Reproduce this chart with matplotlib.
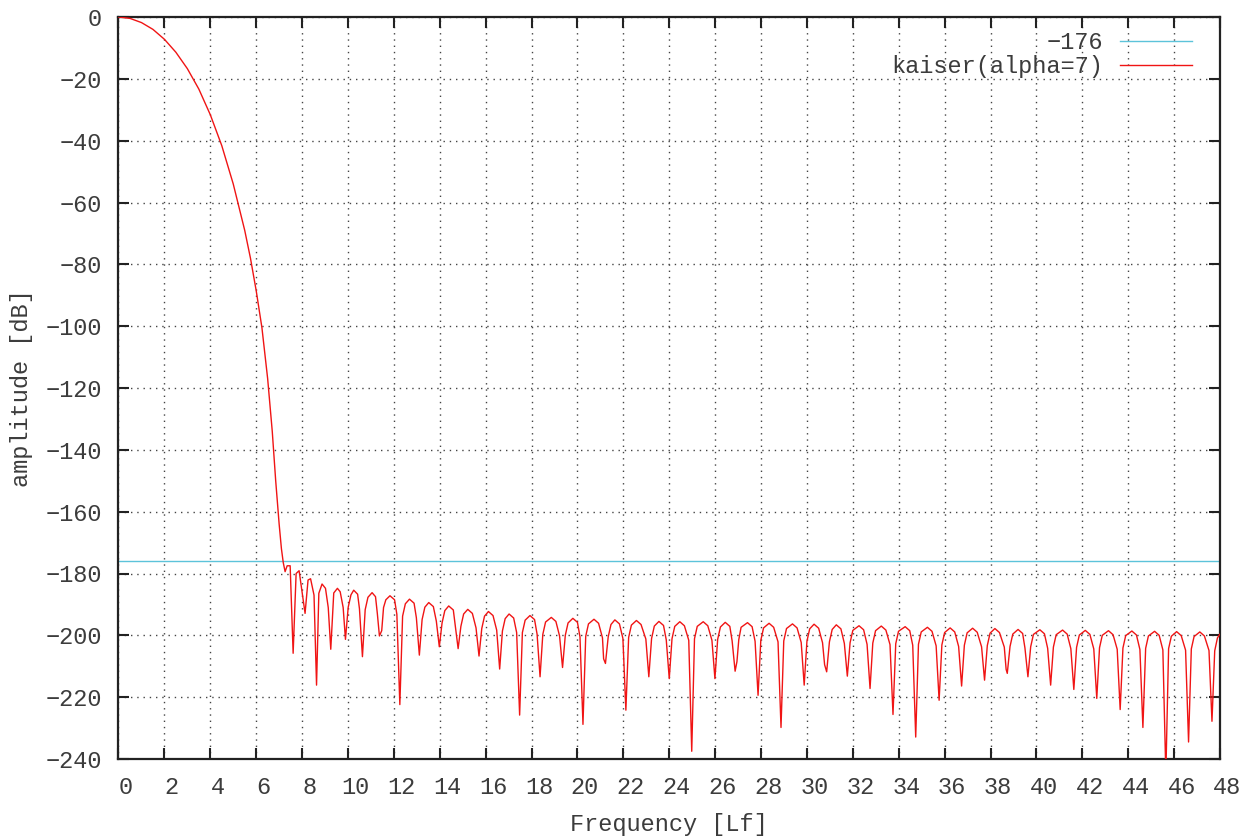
import matplotlib
matplotlib.use("Agg")
import matplotlib.pyplot as plt
from matplotlib.transforms import ScaledTranslation

plt.rcParams['font.family'] = ['Liberation Mono', 'DejaVu Sans']

# ---- data ----
threshold_db = -176
threshold_label = "\u2212176"
series_label = "kaiser(alpha=7)"

# main lobe
main_freq = [0.0, 0.5, 1.0, 1.5, 2.0, 2.5, 3.0, 3.5, 4.0, 4.5, 5.0, 5.5, 5.75,
             6.0, 6.25, 6.5, 6.7, 6.85, 7.0, 7.1, 7.18]
main_db = [0.0, -0.45, -1.8, -4.0, -7.2, -11.4, -16.7, -23.3, -31.6, -41.6, -54.0, -69.0, -78.0,
           -88.5, -100.5, -117.0, -134.0, -150.0, -164.0, -172.0, -176.5]

# first irregular side lobes
near_freq = [7.26, 7.35, 7.48, 7.61, 7.74, 7.87, 8.13, 8.26, 8.37, 8.52, 8.63, 8.73, 8.87, 9.02,
             9.14, 9.25, 9.38, 9.54, 9.66, 9.79, 9.89]
near_db = [-179.4, -177.5, -177.5, -205.8, -180.0, -179.1, -192.9, -182.1, -181.7, -187.0, -216.1,
           -186.4, -183.4, -184.8, -191.0, -204.5, -186.3, -184.8, -185.9, -191.0, -201.3]

# remaining side lobes (shoulder, shoulder, peak, shoulder, shoulder, null)
far_freq = [
    10.01, 10.13, 10.25, 10.42, 10.50, 10.63,
    10.75, 10.87, 11.05, 11.20, 11.28, 11.37, 11.47,
    11.55, 11.65, 11.83, 12.03, 12.13, 12.26,
    12.38, 12.50, 12.68, 12.88, 12.98, 13.11,
    13.23, 13.35, 13.52, 13.72, 13.85, 13.98,
    14.10, 14.22, 14.39, 14.59, 14.67, 14.80,
    14.92, 15.04, 15.22, 15.42, 15.58, 15.71,
    15.83, 15.95, 16.12, 16.32, 16.48, 16.61,
    16.73, 16.85, 17.02, 17.22, 17.35, 17.48,
    17.60, 17.72, 17.93, 18.13, 18.24, 18.37,
    18.49, 18.61, 18.86, 19.06, 19.22, 19.35,
    19.47, 19.59, 19.80, 20.00, 20.11, 20.24,
    20.36, 20.48, 20.72, 20.92, 21.09, 21.14, 21.22,
    21.34, 21.46, 21.63, 21.83, 21.98, 22.11,
    22.23, 22.35, 22.57, 22.77, 22.98, 23.11,
    23.23, 23.35, 23.55, 23.75, 23.87, 24.00,
    24.12, 24.24, 24.46, 24.66, 24.85, 24.98,
    25.10, 25.22, 25.48, 25.68, 25.86, 25.99,
    26.11, 26.23, 26.44, 26.64, 26.74, 26.87, 26.95,
    27.03, 27.13, 27.41, 27.61, 27.74, 27.87,
    27.99, 28.11, 28.35, 28.55, 28.74, 28.87,
    28.99, 29.11, 29.37, 29.57, 29.75, 29.88,
    30.00, 30.12, 30.31, 30.51, 30.68, 30.77, 30.86,
    30.98, 31.10, 31.28, 31.48, 31.63, 31.76,
    31.88, 32.00, 32.27, 32.47, 32.62, 32.75,
    32.87, 32.99, 33.24, 33.44, 33.62, 33.75,
    33.87, 33.99, 34.28, 34.48, 34.61, 34.74,
    34.86, 34.98, 35.25, 35.45, 35.63, 35.76,
    35.88, 36.00, 36.24, 36.44, 36.61, 36.74,
    36.86, 36.98, 37.22, 37.42, 37.61, 37.74,
    37.86, 37.98, 38.19, 38.39, 38.60, 38.68, 38.73,
    38.85, 38.97, 39.20, 39.40, 39.50, 39.63,
    39.75, 39.87, 40.15, 40.35, 40.49, 40.62,
    40.74, 40.86, 41.14, 41.34, 41.50, 41.63,
    41.75, 41.87, 42.13, 42.33, 42.50, 42.63,
    42.75, 42.87, 43.14, 43.34, 43.52, 43.65,
    43.77, 43.89, 44.16, 44.36, 44.51, 44.64,
    44.76, 44.88, 45.15, 45.35, 45.51, 45.64,
    45.76, 45.88, 46.11, 46.31, 46.50, 46.63,
    46.75, 46.87, 47.12, 47.32, 47.52, 47.65,
    47.77, 47.89, 48.00,
]
far_db = [
    -190.9, -186.9, -185.4, -186.7, -191.4, -206.9,
    -191.7, -187.7, -186.2, -187.5, -193.0, -200.2, -198.5,
    -191.0, -188.5, -187.2, -188.5, -193.2, -222.4,
    -193.8, -189.8, -188.3, -189.6, -194.3, -206.4,
    -194.9, -190.9, -189.4, -190.7, -195.4, -203.7,
    -196.0, -192.0, -190.5, -191.8, -196.5, -204.3,
    -197.1, -193.1, -191.6, -192.9, -197.6, -206.7,
    -197.8, -193.8, -192.3, -193.6, -198.3, -210.9,
    -198.6, -194.6, -193.1, -194.4, -199.1, -225.8,
    -199.1, -195.1, -193.6, -194.9, -199.6, -213.4,
    -199.7, -195.7, -194.2, -195.5, -200.2, -210.4,
    -200.0, -196.0, -194.5, -195.8, -200.5, -228.8,
    -200.3, -196.3, -194.8, -196.1, -200.8, -207.6, -209.1,
    -200.5, -196.5, -195.0, -196.3, -201.0, -224.2,
    -200.7, -196.7, -195.2, -196.5, -201.2, -213.4,
    -201.0, -197.0, -195.5, -196.8, -201.5, -214.0,
    -201.1, -197.1, -195.6, -196.9, -201.6, -237.5,
    -201.1, -197.1, -195.6, -196.9, -201.6, -214.0,
    -201.3, -197.3, -195.8, -197.1, -201.8, -211.6, -208.5,
    -201.4, -197.4, -195.9, -197.2, -201.9, -219.4,
    -201.6, -197.6, -196.1, -197.4, -202.1, -229.8,
    -201.8, -197.8, -196.3, -197.6, -202.3, -216.1,
    -201.9, -197.9, -196.4, -197.7, -202.4, -209.5, -211.8,
    -202.1, -198.1, -196.6, -197.9, -202.6, -213.2,
    -202.4, -198.4, -196.9, -198.2, -202.9, -217.2,
    -202.5, -198.5, -197.0, -198.3, -203.0, -225.6,
    -202.7, -198.7, -197.2, -198.5, -203.2, -232.9,
    -202.9, -198.9, -197.4, -198.7, -203.4, -221.0,
    -203.1, -199.1, -197.6, -198.9, -203.6, -216.4,
    -203.2, -199.2, -197.7, -199.0, -203.7, -214.5,
    -203.3, -199.3, -197.8, -199.1, -203.8, -211.0, -212.3,
    -203.6, -199.6, -198.1, -199.4, -204.1, -213.4,
    -203.7, -199.7, -198.2, -199.5, -204.2, -216.1,
    -203.8, -199.8, -198.3, -199.6, -204.3, -217.5,
    -203.9, -199.9, -198.4, -199.7, -204.4, -220.4,
    -204.0, -200.0, -198.5, -199.8, -204.5, -224.0,
    -204.1, -200.1, -198.6, -199.9, -204.6, -229.8,
    -204.2, -200.2, -198.7, -200.0, -204.7, -245.0,
    -204.3, -200.3, -198.8, -200.1, -204.8, -234.5,
    -204.4, -200.4, -198.9, -200.2, -204.9, -227.8,
    -205.0, -200.8, -199.6,
]

x_ticks = list(range(0, 49, 2))
y_ticks = list(range(-240, 1, 20))

freq = main_freq + near_freq + far_freq
amplitude = main_db + near_db + far_db

# ---- figure ----
W, H = 1253, 839
fig = plt.figure(figsize=(W / 100, H / 100), dpi=100)
ax = fig.add_axes([118.5 / W, 1 - 759 / H, (1220 - 118.5) / W, (759 - 17) / H])

text_color = '#3c3c3c'
fs = 17

ax.axhline(threshold_db, color='#5cc3da', lw=1.0, label=threshold_label, zorder=2)
ax.plot(freq, amplitude, color='#f01414', lw=1.0, label=series_label, zorder=3)

ax.set_xlim(0, 48)
ax.set_ylim(-240, 0)
ax.set_xticks(x_ticks)
ax.set_yticks(y_ticks)
ax.set_xticklabels([str(v) for v in x_ticks])
ax.set_yticklabels([("\u2212" + str(-v)) if v < 0 else str(v) for v in y_ticks])

ax.grid(True, color='#444444', linestyle=(0, (1, 3.5)), linewidth=1.0)
ax.set_axisbelow(True)

for s in ax.spines.values():
    s.set_linewidth(1.6)
    s.set_color('#222222')

ax.tick_params(axis='both', which='major', direction='in', length=8, width=1.5,
               top=True, right=True, labelsize=fs, labelcolor=text_color, color='#222222')
ax.tick_params(axis='y', pad=12)
ax.tick_params(axis='x', pad=12)

offset = ScaledTranslation(7.5 / 100, 0, fig.dpi_scale_trans)
for lab in ax.get_xticklabels():
    lab.set_transform(lab.get_transform() + offset)

ax.set_xlabel("Frequency [Lf]", fontsize=fs, color=text_color, labelpad=10)
ax.set_ylabel("amplitude [dB]", fontsize=fs, color=text_color, labelpad=9)

leg = ax.legend(loc='upper right', frameon=False, markerfirst=False, fontsize=fs,
                handlelength=3.05, handletextpad=0.7, labelspacing=0.05,
                borderaxespad=0.0, borderpad=0.0,
                bbox_to_anchor=((1192 - 118.5) / 1101.5, 1 - 14.0 / 742))
for t in leg.get_texts():
    t.set_color(text_color)

fig.savefig("out.png", dpi=100)
